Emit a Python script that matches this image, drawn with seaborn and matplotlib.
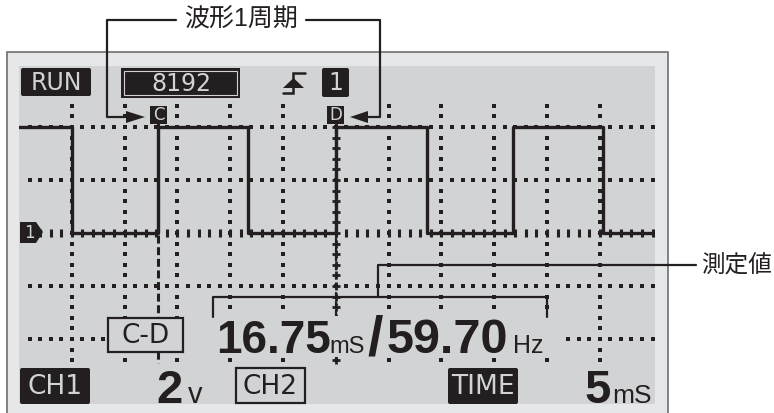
import numpy as np
import pandas as pd
import matplotlib
matplotlib.use('Agg')
import matplotlib.pyplot as plt
from matplotlib.patches import Rectangle, Polygon, FancyBboxPatch
import seaborn as sns

# square wave: edge times (ms) and level after each edge (V)
edge_times = [0.0, 5.0, 13.2, 21.7, 30.0, 38.6, 46.8, 55.3, 60.2]
edge_levels = [4, 0, 4, 0, 4, 0, 4, 0, 0]
cursor_c = 13.2
cursor_d = 30.0

# graticule: 5 ms/div, 2 V/div
grid_times = [5, 10, 15, 20, 25, 30, 35, 40, 45, 50, 55]
grid_volts = [4, 2, 0, -2, -4]

# screen read-outs
run_label = 'RUN'
sample_count = '8192'
trig_channel = '1'
period_value = '16.75'
period_unit = 'mS'
freq_value = '59.70'
freq_unit = 'Hz'
volt_div = '2'
volt_unit = 'v'
time_div = '5'
time_unit = 'mS'
callout_period = '波形1周期'
callout_value = '測定値'

BLACK = '#231f20'
LCD = '#d1d3d4'
FRAME = '#e6e7e8'
EDGE = '#6d6e71'

sns.set_theme(style='white')
plt.rcParams['font.family'] = ['Liberation Sans', 'Noto Sans CJK JP', 'DejaVu Sans']

fig = plt.figure(figsize=(7.74, 4.13), dpi=100)

# background: instrument frame and lcd panel, in pixel units
bg = fig.add_axes([0, 0, 1, 1], zorder=0)
bg.set_xlim(0, 774)
bg.set_ylim(413, 0)
bg.axis('off')
bg.add_patch(Rectangle((7, 52), 661, 380, fc=FRAME, ec=EDGE, lw=1.2))
bg.add_patch(Rectangle((19, 66), 636, 338, fc=LCD, ec='none'))

# scope trace area
ax = fig.add_axes([19 / 774, 1 - 404 / 413, 636 / 774, 338 / 413], zorder=1)
ax.patch.set_alpha(0)
ax.set_xlim(0, 636 / 10.56)
ax.set_ylim(-(404 - 233) / 26.5, (233 - 66) / 26.5)
ax.axis('off')

ms_dots = np.arange(1, 61)
v_dots = np.round(np.arange(-4.8, 4.81, 0.4), 2)

h_dots = pd.DataFrame([(t, v) for v in grid_volts if v != 0 for t in ms_dots], columns=['t', 'v'])
v_dots_df = pd.DataFrame([(t, v) for t in grid_times if t != cursor_d for v in v_dots], columns=['t', 'v'])
zero_ticks = pd.DataFrame({'t': ms_dots, 'v': 0.0})

sns.scatterplot(data=h_dots, x='t', y='v', marker='s', s=5, color=BLACK, linewidth=0, ax=ax)
sns.scatterplot(data=v_dots_df, x='t', y='v', marker='s', s=5, color=BLACK, linewidth=0, ax=ax)
sns.scatterplot(data=zero_ticks, x='t', y='v', marker='|', s=40, color=BLACK, linewidth=2.2, ax=ax)

wave = pd.DataFrame({'t': edge_times, 'v': edge_levels})
sns.lineplot(data=wave, x='t', y='v', drawstyle='steps-post', color=BLACK, lw=2.4,
             estimator=None, sort=False, ax=ax)

# cursors C and D
ax.plot([cursor_c, cursor_c], [4.3, -4.9], color=BLACK, lw=2.2, ls=(0, (2.6, 1.2)))
d_marks = v_dots[v_dots < 4.3]
ax.plot([cursor_d] * len(d_marks), d_marks, ls='none', marker='+', ms=6, mew=2.0, color=BLACK)
ax.plot([cursor_d, cursor_d], [4.3, -4.9], color=BLACK, lw=1.6, ls=(0, (2.5, 1.6)))
for cx, name in [(cursor_c, 'C'), (cursor_d, 'D')]:
    ax.add_patch(Rectangle((cx - 0.8, 4.12), 1.6, 0.66, fc=BLACK, ec='none', zorder=5))
    ax.text(cx, 4.44, name, ha='center', va='center', color=LCD, fontsize=12,
            family='DejaVu Sans', zorder=6)
ax.set_xlabel('')
ax.set_ylabel('')
if ax.get_legend():
    ax.get_legend().remove()

# overlay with read-outs and call-outs, pixel units
ov = fig.add_axes([0, 0, 1, 1], zorder=2)
ov.patch.set_alpha(0)
ov.set_xlim(0, 774)
ov.set_ylim(413, 0)
ov.axis('off')


def black_box(x0, y0, x1, y1, label, size=17):
    ov.add_patch(FancyBboxPatch((x0 + 2, y0 + 2), x1 - x0 - 4, y1 - y0 - 4,
                                boxstyle='round,pad=2', fc=BLACK, ec='none'))
    ov.text((x0 + x1) / 2, (y0 + y1) / 2 + 1, label, ha='center', va='center',
            color=LCD, fontsize=size, family='DejaVu Sans')


def outline_box(x0, y0, x1, y1, label, size=17):
    ov.add_patch(Rectangle((x0, y0), x1 - x0, y1 - y0, fc=LCD, ec=BLACK, lw=1.6))
    ov.text((x0 + x1) / 2, (y0 + y1) / 2 + 1, label, ha='center', va='center',
            color=BLACK, fontsize=size, family='DejaVu Sans')


black_box(21, 68, 91, 96, run_label, 17)
ov.add_patch(Rectangle((121, 68), 119, 30, fc=BLACK, ec='none'))
ov.add_patch(Rectangle((124, 71), 113, 24, fc='none', ec=LCD, lw=0.8))
ov.text(181, 84, sample_count, ha='center', va='center', color=LCD, fontsize=17,
        family='DejaVu Sans')
black_box(322, 68, 349, 97, trig_channel, 17)

# trigger slope symbol
ov.plot([283, 293, 293, 305], [93, 93, 73, 73], color=BLACK, lw=1.8, solid_joinstyle='miter')
ov.add_patch(Polygon([(283, 88), (304, 88), (293.5, 78)], closed=True, fc=BLACK, ec='none'))

# channel 1 ground marker
ov.add_patch(Polygon([(20, 222), (36, 222), (43, 232), (36, 243), (20, 243)], closed=True,
                     fc=BLACK, ec='none'))
ov.text(29, 233, '1', ha='center', va='center', color=LCD, fontsize=12, family='DejaVu Sans')

# bottom row read-outs
black_box(20, 368, 90, 404, 'CH1', 19)
outline_box(236, 368, 305, 403, 'CH2', 19)
black_box(448, 368, 518, 404, 'TIME', 19)
outline_box(108, 318, 183, 352, 'C-D', 19)
ov.text(156, 403, volt_div, ha='left', va='baseline', color=BLACK, fontsize=34, fontweight='bold')
ov.text(188, 403, volt_unit, ha='left', va='baseline', color=BLACK, fontsize=21)
ov.text(584, 403, time_div, ha='left', va='baseline', color=BLACK, fontsize=34, fontweight='bold')
ov.text(612, 403, time_unit, ha='left', va='baseline', color=BLACK, fontsize=19)

# measured period / frequency
ov.add_patch(Rectangle((185, 316), 377, 41, fc=LCD, ec='none'))
ov.text(216, 353, period_value, ha='left', va='baseline', color=BLACK, fontsize=33, fontweight='bold')
ov.text(329, 353, period_unit, ha='left', va='baseline', color=BLACK, fontsize=17)
ov.text(367, 355, '/', ha='left', va='baseline', color=BLACK, fontsize=40, fontweight='bold')
ov.text(387, 353, freq_value, ha='left', va='baseline', color=BLACK, fontsize=35, fontweight='bold')
ov.text(513, 353, freq_unit, ha='left', va='baseline', color=BLACK, fontsize=18)

# call-out: one waveform period
lw_c = 1.6
ov.text(241, 20, callout_period, ha='center', va='center', color=BLACK, fontsize=18)
ov.plot([176, 107, 107, 132], [20, 20, 117, 117], color=BLACK, lw=lw_c)
ov.add_patch(Polygon([(126, 111), (145, 117), (126, 123)], closed=True, fc=BLACK, ec='none'))
ov.plot([306, 380, 380, 362], [20, 20, 117, 117], color=BLACK, lw=lw_c)
ov.add_patch(Polygon([(368, 111), (350, 117), (368, 123)], closed=True, fc=BLACK, ec='none'))

# call-out: measured value
ov.plot([213, 213, 547, 547], [317, 297, 297, 317], color=BLACK, lw=lw_c)
ov.plot([378, 378, 696], [297, 265, 265], color=BLACK, lw=lw_c)
ov.text(701, 266, callout_value, ha='left', va='center', color=BLACK, fontsize=17)

fig.savefig('out.png', dpi=100)
